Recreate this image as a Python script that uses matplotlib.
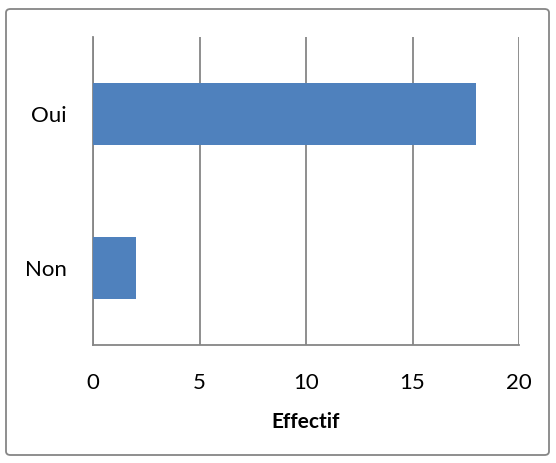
import matplotlib.pyplot as plt
from matplotlib.patches import FancyBboxPatch

categories = ["Non", "Oui"]
effectifs = [2, 18]
x_ticks = [0, 5, 10, 15, 20]

plt.rcParams['font.family'] = ['Lato', 'DejaVu Sans']

fig = plt.figure(figsize=(5.56, 4.63), dpi=100)
ax = fig.add_axes([0.1673, 0.2549, 0.9335 - 0.1673, 0.920 - 0.2549])

grid_col = "#868686"
ax.barh(range(len(categories)), effectifs, height=0.4, color="#4F81BD", zorder=3)

ax.set_xlim(0, 20)
ax.set_ylim(-0.5, len(categories) - 0.5)
ax.set_xticks(x_ticks)
ax.set_yticks(range(len(categories)))
ax.set_yticklabels(categories)
ax.xaxis.grid(True, color=grid_col, linewidth=1.3, zorder=0)
ax.tick_params(axis="both", length=0, labelsize=16, colors="black")
ax.tick_params(axis="x", pad=20)
ax.tick_params(axis="y", pad=19)

for side in ["top", "right"]:
    ax.spines[side].set_visible(False)
for side in ["left", "bottom"]:
    ax.spines[side].set_color(grid_col)
    ax.spines[side].set_linewidth(1.3)

ax.set_xlabel("Effectif", fontsize=15, fontweight="bold", labelpad=14)

# chart frame around the whole figure
frame = FancyBboxPatch((6 / 556, 8 / 463), 543 / 556, 446 / 463,
                       boxstyle="round,pad=0,rounding_size=0.008",
                       transform=fig.transFigure, fill=False,
                       edgecolor=grid_col, linewidth=1.3)
fig.patches.append(frame)

fig.savefig("out.png", dpi=100)
